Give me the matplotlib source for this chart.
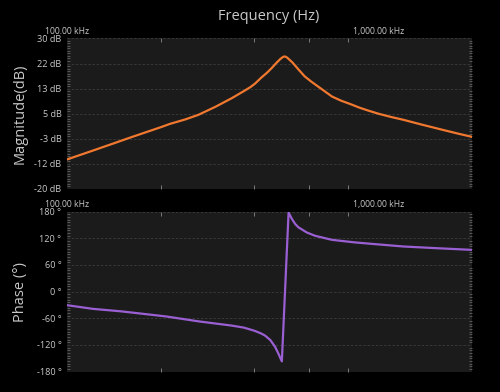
import numpy as np
import matplotlib.pyplot as plt
from matplotlib.ticker import FixedLocator, FuncFormatter, MultipleLocator

# ------------------------
# Data (frequency in kHz)
# ------------------------

mag_freq_khz = [100, 120, 140, 160, 180, 200, 214, 240, 264, 300, 339, 370, 388,
                402, 420, 439, 455, 470, 485, 495, 502, 510, 530, 555, 580, 610,
                651, 710, 760, 813, 870, 930, 1000, 1100, 1200, 1400, 1600, 1800, 2000]
mag_db = [-10.2, -7.4, -5.0, -2.9, -1.1, 0.5, 1.6, 3.1, 4.6, 7.3, 10.2, 12.5, 13.8,
          15.0, 16.9, 18.6, 20.2, 21.8, 23.2, 23.9, 24.0, 23.6, 22.0, 19.6, 17.4, 15.6,
          13.5, 10.7, 9.3, 8.2, 7.0, 6.0, 5.0, 3.9, 3.0, 1.2, -0.3, -1.6, -2.7]

phase_freq_khz = [100, 121, 150, 180, 209, 264, 339, 370, 400, 420, 433, 450, 466,
                  478, 490, 515, 528, 541, 554, 590, 627, 710, 844, 978, 1206, 1544,
                  2000]
phase_deg = [-30.5, -38.7, -44.5, -50.8, -56.0, -66.8, -76.5, -81.0, -88.0, -94.0,
             -99.0, -109.0, -124.0, -140.0, -157.0, 178.0, 163.5, 152.2, 144.7, 133.0,
             125.7, 116.6, 110.7, 106.9, 101.6, 97.8, 94.0]

mag_ticks = np.linspace(-20, 30, 7)
phase_ticks = [-180, -120, -60, 0, 60, 120, 180]
freq_major_khz = [100, 1000]
freq_minor_khz = [200, 400, 600, 800]

BG = "#000000"
PANEL = "#1b1b1b"
TXT = "#c8c8c8"
GRID = "#3c3c3c"


def khz_label(v, pos):
    return f"{v / 1e3:,.2f} kHz"


def style_axis(ax, yticks, ylabel, yfmt, minor_step):
    ax.set_facecolor(PANEL)
    for s in ax.spines.values():
        s.set_visible(False)
    ax.set_xscale("log")
    ax.set_xlim(100e3, 2000e3)
    ax.xaxis.set_major_locator(FixedLocator([f * 1e3 for f in freq_major_khz]))
    ax.xaxis.set_minor_locator(FixedLocator([f * 1e3 for f in freq_minor_khz]))
    ax.xaxis.set_major_formatter(FuncFormatter(khz_label))
    ax.xaxis.set_minor_formatter(FuncFormatter(lambda v, p: ""))
    ax.xaxis.tick_top()
    ax.tick_params(axis="x", which="major", length=0, pad=2,
                   labelsize=6.2, labelcolor=TXT)
    ax.tick_params(axis="x", which="minor", direction="in", length=3,
                   color="#8a8a8a", top=True, bottom=True, width=0.6)

    ax.set_yticks(yticks)
    ax.yaxis.set_major_formatter(FuncFormatter(yfmt))
    ax.yaxis.set_minor_locator(MultipleLocator(minor_step))
    ax.tick_params(axis="y", which="major", length=0, pad=4,
                   labelsize=6.6, labelcolor=TXT)
    ax.tick_params(axis="y", which="minor", direction="in", length=2.5,
                   color="#707070", width=0.5, left=True, right=True)
    ax.grid(axis="y", which="major", color=GRID, linestyle=(0, (3, 2)), lw=0.6)
    ax.set_ylabel(ylabel, color=TXT, fontsize=10.5)
    ax.yaxis.set_label_coords(-0.097, 0.5)


fig = plt.figure(figsize=(5.0, 3.92), dpi=100, facecolor=BG)
plt.rcParams["font.family"] = ["Open Sans", "DejaVu Sans"]

ax1 = fig.add_axes([0.134, 0.518, 0.81, 0.384])
ax2 = fig.add_axes([0.134, 0.052, 0.81, 0.408])

# Magnitude
ax1.plot(np.array(mag_freq_khz) * 1e3, mag_db, color="#f0782f", lw=1.6)
ax1.set_ylim(-20, 30)
style_axis(ax1, mag_ticks, "Magnitude(dB)", lambda v, p: f"{v:.0f} dB", 50 / 60)

# Phase
ax2.plot(np.array(phase_freq_khz) * 1e3, phase_deg, color="#9a5fd2", lw=1.6)
ax2.set_ylim(-180, 180)
style_axis(ax2, phase_ticks, "Phase (°)", lambda v, p: f"{v:.0f} °", 6)

fig.text(0.538, 0.957, "Frequency (Hz)", color=TXT, fontsize=10.5,
         ha="center", va="center")

fig.savefig("out.png", dpi=100, facecolor=BG)
